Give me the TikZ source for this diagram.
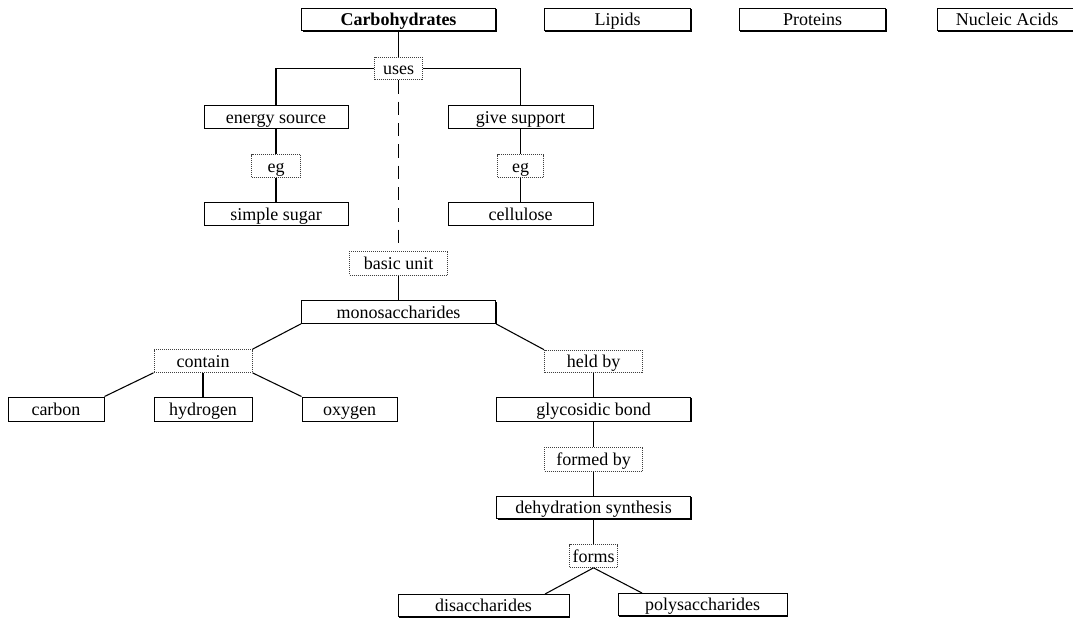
\documentclass[tikz,border=0pt]{standalone}
\usepackage{fontspec}
\setmainfont{Liberation Serif}
\usetikzlibrary{shadows}
\begin{document}
\begin{tikzpicture}[x=0.75pt,y=-0.75pt,
  every node/.style={font=\fontsize{13.5}{15}\selectfont, inner sep=0pt, anchor=center, text height=11pt, text depth=2pt},
  box/.style={draw=black, line width=0.75pt, fill=white, minimum height=17pt,
    drop shadow={shadow xshift=0.75pt, shadow yshift=-0.75pt, opacity=1, fill=black}},
  lbl/.style={draw=black!75, line width=0.75pt, dash pattern=on 0.75pt off 0.75pt, fill=white, minimum height=17pt},
  link/.style={line width=0.8pt, black},
  dlink/.style={line width=1.3pt, black, dash pattern=on 10pt off 6pt}]
\useasboundingbox (0,0) rectangle (1073,618);
% top row
\node[box, minimum width=145.5pt, font=\fontsize{13.5}{15}\selectfont\bfseries] (carb) at (398.5,19.5) {Carbohydrates};
\node[box, minimum width=110pt] (lip) at (617.5,19.5) {Lipids};
\node[box, minimum width=110pt] (prot) at (812.5,19.5) {Proteins};
\node[box, minimum width=110pt] (nuc) at (1010.5,19.5) {\hspace*{-5pt}Nucleic Acids};
% labels & boxes
\node[lbl, minimum width=36pt] (uses) at (398.5,68.5) {uses};
\node[box, minimum width=108pt] (energy) at (276,117) {energy source};
\node[box, minimum width=108.75pt] (support) at (520.5,117) {give support};
\node[lbl, minimum width=36.75pt] (eg1) at (276,166) {eg};
\node[lbl, minimum width=34.5pt] (eg2) at (520.5,166) {eg};
\node[box, minimum width=108pt] (sugar) at (276,214) {simple sugar};
\node[box, minimum width=108.75pt] (cell) at (520.5,214) {cellulose};
\node[lbl, minimum width=73.5pt, minimum height=18pt] (basic) at (398.5,263) {basic unit};
\node[box, minimum width=145.5pt] (mono) at (398.5,312) {monosaccharides};
\node[lbl, minimum width=73.5pt] (contain) at (203,361) {contain};
\node[lbl, minimum width=73.5pt] (held) at (593.5,361.5) {held by};
\node[box, minimum width=72pt, minimum height=18pt] (carbon) at (56,409) {carbon};
\node[box, minimum width=73.5pt, minimum height=18pt] (hydro) at (203,409) {hydrogen};
\node[box, minimum width=71.25pt, minimum height=18pt] (oxy) at (349.5,409) {oxygen};
\node[box, minimum width=145.5pt, minimum height=18pt] (glyco) at (593.5,409) {glycosidic bond};
\node[lbl, minimum width=73.5pt, minimum height=18pt] (formed) at (593.5,459) {formed by};
\node[box, minimum width=145.5pt] (dehyd) at (593.5,507.5) {dehydration synthesis};
\node[lbl, minimum width=36pt] (forms) at (593.5,556) {forms};
\node[box, minimum width=128.25pt] (di) at (483.5,605.5) {disaccharides};
\node[box, minimum width=126.75pt] (poly) at (702.5,604.5) {polysaccharides};
\coordinate (dtop) at (545,594);
\coordinate (ptop) at (642,593);
% connectors
\draw[link] (carb.south) -- (uses.north);
\draw[link] (uses.west) -| (energy.north);
\draw[link] (uses.east) -| (support.north);
\draw[dlink] (uses.south) -- (basic.north);
\draw[link] (energy.south) -- (eg1.north);
\draw[link] (eg1.south) -- (sugar.north);
\draw[link] (support.south) -- (eg2.north);
\draw[link] (eg2.south) -- (cell.north);
\draw[link] (basic.south) -- (mono.north);
\draw[link] (mono.south west) -- (contain.north east);
\draw[link] (mono.south east) -- (held.north west);
\draw[link] (contain.south west) -- (carbon.north east);
\draw[link] (contain.south) -- (hydro.north);
\draw[link] (contain.south east) -- (oxy.north west);
\draw[link] (held.south) -- (glyco.north);
\draw[link] (glyco.south) -- (formed.north);
\draw[link] (formed.south) -- (dehyd.north);
\draw[link] (dehyd.south) -- (forms.north);
\draw[link] (forms.south) -- (dtop);
\draw[link] (forms.south) -- (ptop);
\end{tikzpicture}
\end{document}
